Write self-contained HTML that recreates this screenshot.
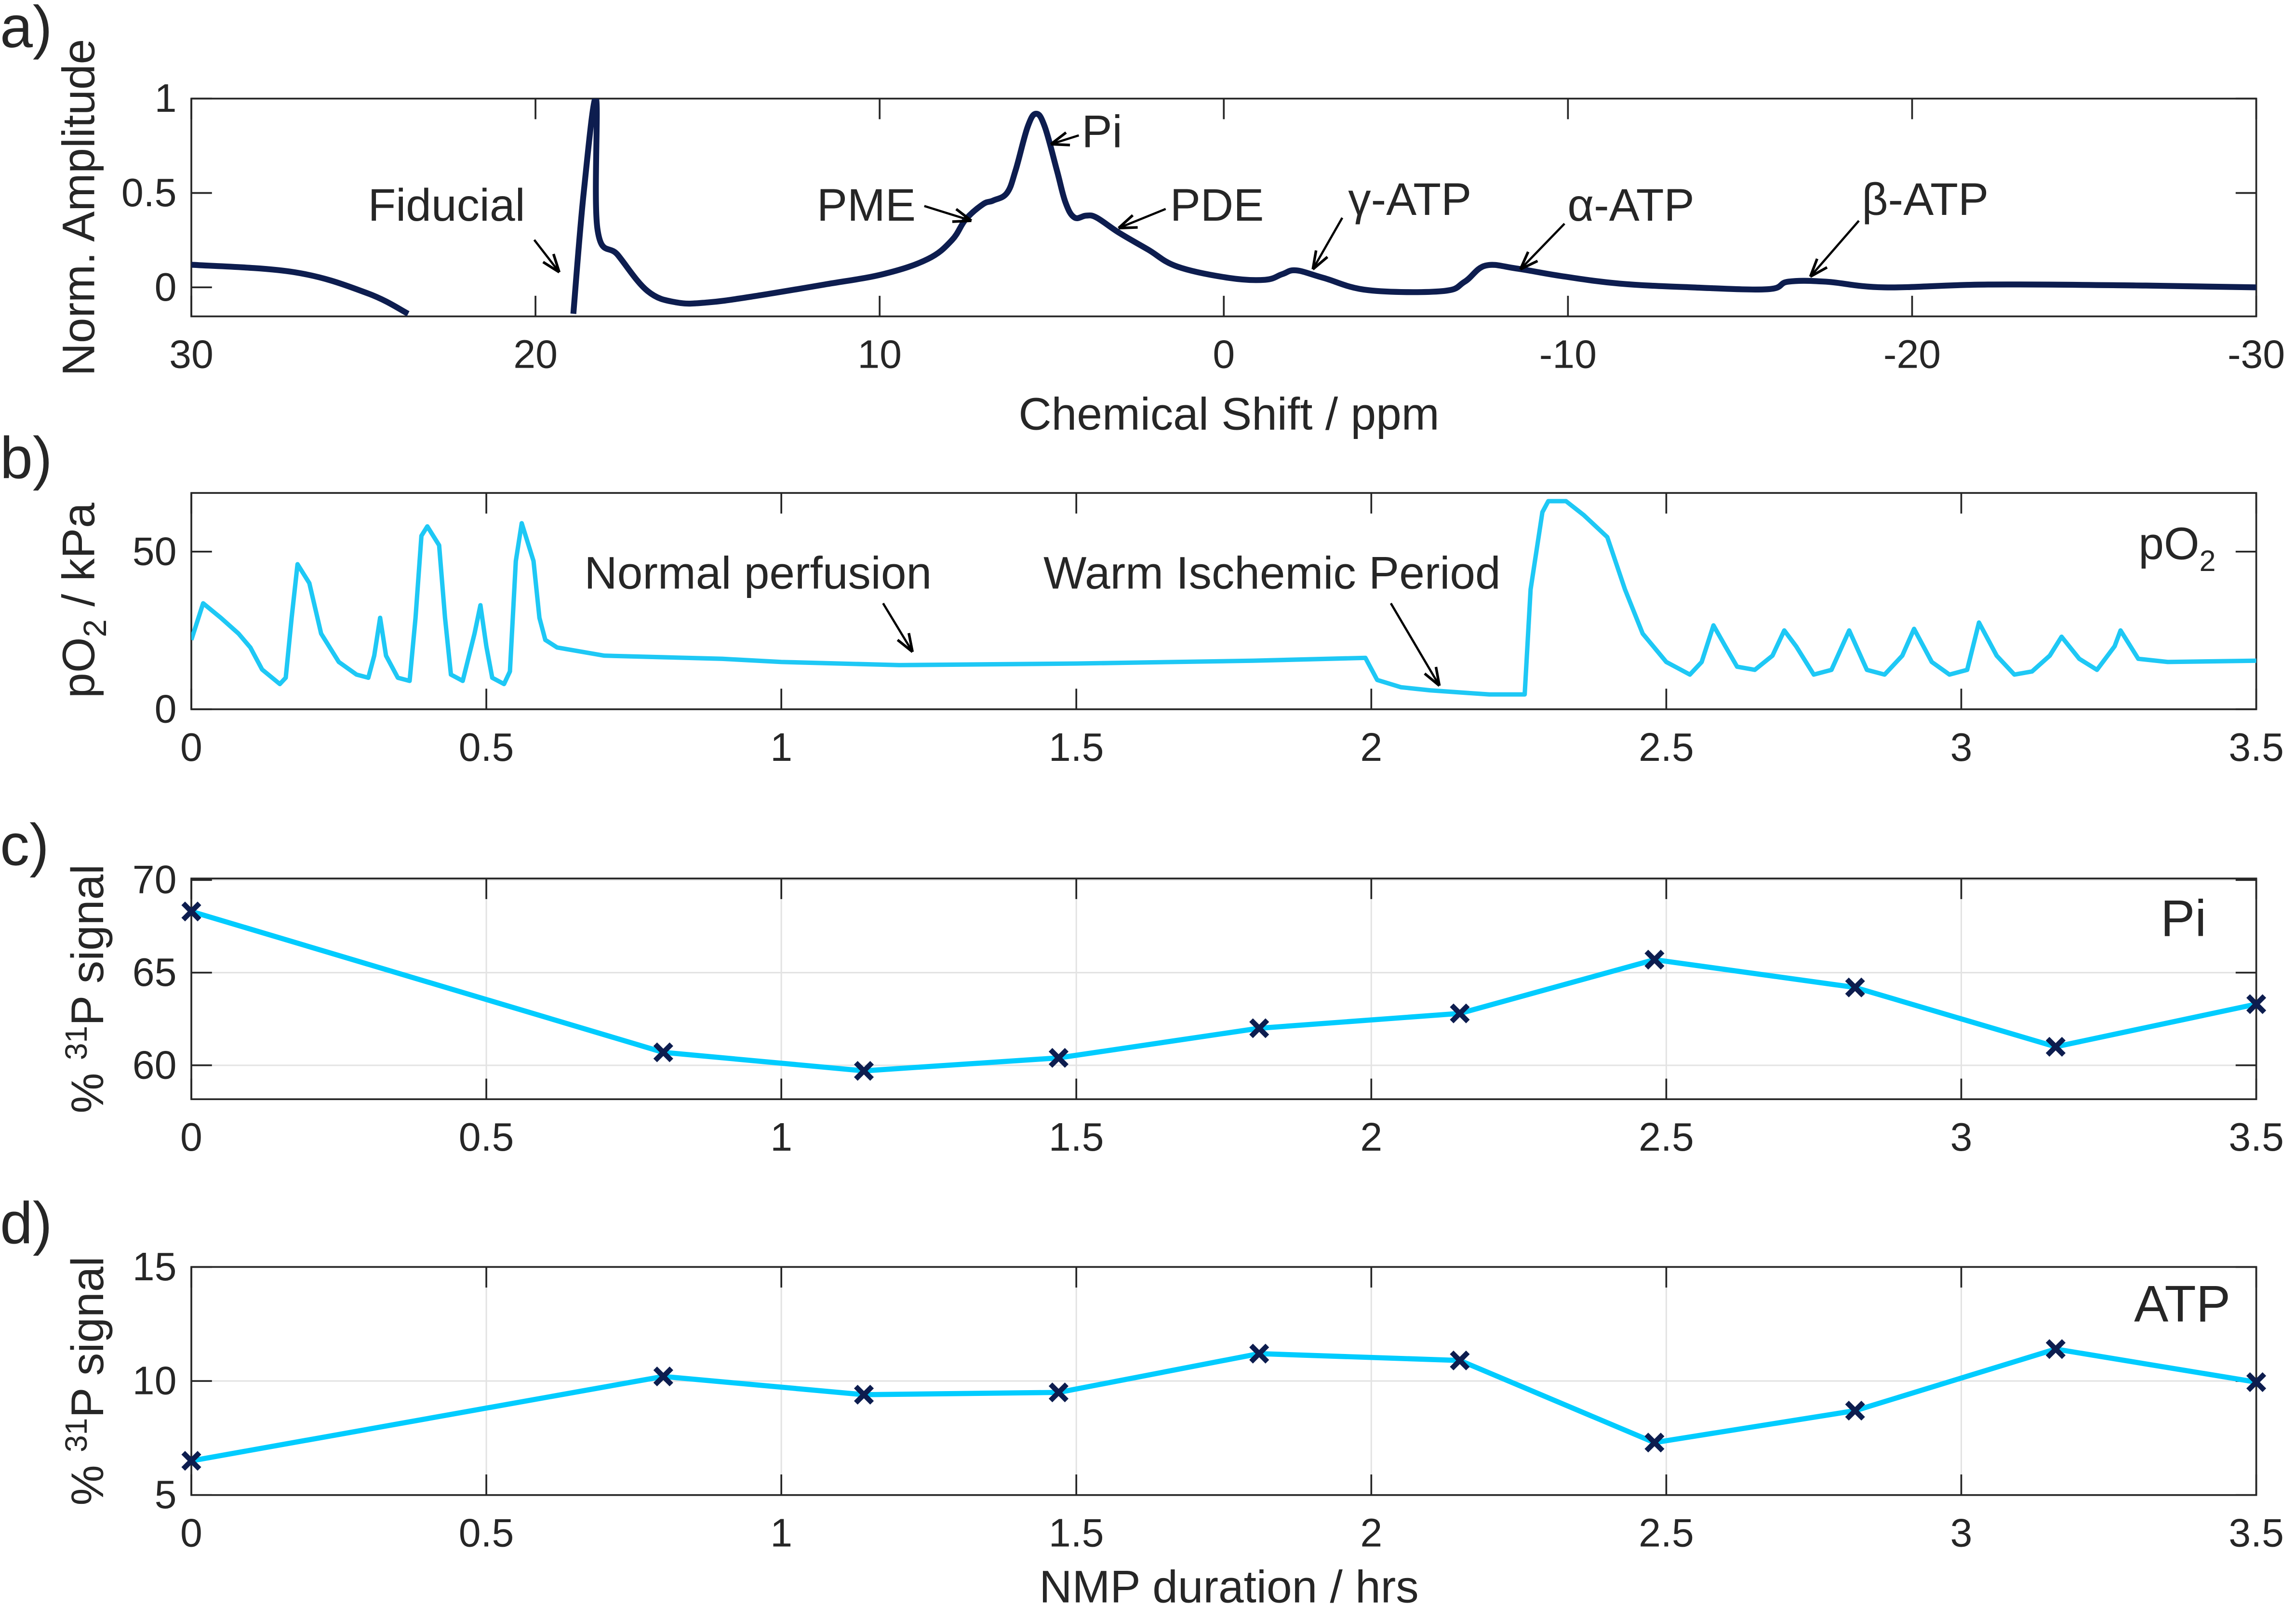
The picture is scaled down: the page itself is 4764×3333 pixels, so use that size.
<!DOCTYPE html>
<html><head><meta charset="utf-8"><style>
html,body{margin:0;padding:0;background:#fff}
svg{display:block}
text{font-family:"Liberation Sans",sans-serif;fill:#262626}
</style></head><body>
<svg id="fig" xmlns="http://www.w3.org/2000/svg" width="4764" height="3333" viewBox="0 0 1560 1091.4">
<g id="root"></g>
</svg>
<script>
// ---- data ----
const specPpm = [30,27,24.9,23.7,null,18.9,18.6,18.24,18.2,17.6,16.74,15.9,15.0,13.75,11.6,9.9,8.6,7.9,7.5,7.0,6.7,6.3,6.05,5.7,5.45,5.2,4.85,4.6,4.34,4.0,3.7,3.05,2.2,1.35,-0.15,-1.2,-1.7,-2.1,-2.9,-4.2,-6.35,-7.0,-7.6,-8.5,-9.8,-11.5,-13.6,-15.8,-16.4,-17.5,-19.2,-22.2,-26.5,-30];
const specAmp = [0.12,0.08,-0.03,-0.14,null,-0.14,0.5,1.0,0.31,0.17,-0.02,-0.08,-0.08,-0.05,0.015,0.07,0.15,0.25,0.36,0.44,0.46,0.5,0.62,0.85,0.92,0.85,0.62,0.45,0.37,0.38,0.37,0.29,0.2,0.11,0.05,0.04,0.07,0.09,0.05,-0.015,-0.02,0.03,0.115,0.1,0.06,0.02,0,-0.01,0.03,0.03,0,0.015,0.01,0];
const po2Time = [0,0.02,0.05,0.08,0.1,0.12,0.15,0.16,0.17,0.18,0.2,0.22,0.25,0.28,0.3,0.31,0.32,0.33,0.35,0.37,0.38,0.39,0.4,0.42,0.43,0.44,0.46,0.48,0.49,0.5,0.51,0.53,0.54,0.55,0.56,0.58,0.59,0.6,0.62,0.7,0.8,0.9,1.0,1.2,1.5,1.8,1.99,2.01,2.05,2.1,2.2,2.26,2.27,2.29,2.3,2.33,2.36,2.4,2.43,2.46,2.5,2.52,2.54,2.56,2.58,2.6,2.62,2.65,2.68,2.7,2.72,2.75,2.78,2.81,2.84,2.87,2.9,2.92,2.95,2.98,3.01,3.03,3.06,3.09,3.12,3.15,3.17,3.2,3.23,3.26,3.27,3.3,3.35,3.5];
const po2Val = [22,33.6,29,24,19.6,12.6,8,10,29,46,40,24,15,11,10,17,29,17,10,9,29,55,58,52,29,11,9,24,33,20,10,8,12,47,59,47,29,22,19.6,17,16.5,16,15,14,14.5,15.4,16.3,9.3,7,6,4.7,4.7,38,62.5,66,66,61.6,54.6,38,24,15,13,11,15,26.6,20,13.5,12.5,17,25,20,11,12.5,25,12.5,11,17,25.5,15,11,12.5,27.5,17,11,12,17,23,16,12.5,20,25,16,15,15.4];
const nmpTime = [0,0.8,1.14,1.47,1.81,2.15,2.48,2.82,3.16,3.5];
const piVal = [68.3,60.7,59.7,60.4,62.0,62.8,65.7,64.2,61.0,63.3];
const atpVal = [6.5,10.2,9.4,9.5,11.2,10.9,7.3,8.7,11.4,9.95];
const ppmTicks = [30,20,10,0,-10,-20,-30];
const ampTicks = [0,0.5,1];
const hrTicks = [0,0.5,1,1.5,2,2.5,3,3.5];
const po2Ticks = [0,50];
const piTicks = [60,65,70];
const atpTicks = [5,10,15];

const NS="http://www.w3.org/2000/svg";
const root=document.getElementById('root');
function mk(tag,attrs,parent){const e=document.createElementNS(NS,tag);for(const k in attrs)e.setAttribute(k,attrs[k]);(parent||root).appendChild(e);return e;}
function txt(s,x,y,size,anchor,parent){const t=mk('text',{x:x,y:y,'font-size':size,'text-anchor':anchor||'start'},parent);t.textContent=s;return t;}
const L=130,R=1533;

function panel(name,top,bot,x0,x1,y0,y1,xt,yt,grid){
  const g=mk('g',{});
  
  
  const sx=v=>L+(v-x0)/(x1-x0)*(R-L);
  const sy=v=>bot-(v-y0)/(y1-y0)*(bot-top);
  if(grid){
    xt.forEach(v=>mk('line',{x1:sx(v),x2:sx(v),y1:top,y2:bot,stroke:'#e3e3e3','stroke-width':1},g));
    yt.forEach(v=>mk('line',{x1:L,x2:R,y1:sy(v),y2:sy(v),stroke:'#e3e3e3','stroke-width':1},g));
  }
  mk('rect',{x:L,y:top,width:R-L,height:bot-top,fill:'none',stroke:'#262626','stroke-width':1.2},g);
  xt.forEach(v=>{
    mk('line',{x1:sx(v),x2:sx(v),y1:bot,y2:bot-14,stroke:'#262626','stroke-width':1.2},g);
    mk('line',{x1:sx(v),x2:sx(v),y1:top,y2:top+14,stroke:'#262626','stroke-width':1.2},g);
    const t=txt(String(v),sx(v),bot+35,27,'middle',g);
    
    
  });
  yt.forEach(v=>{
    mk('line',{x1:L,x2:L+14,y1:sy(v),y2:sy(v),stroke:'#262626','stroke-width':1.2},g);
    mk('line',{x1:R,x2:R-14,y1:sy(v),y2:sy(v),stroke:'#262626','stroke-width':1.2},g);
    const t=txt(String(v),L-10,sy(v)+9,27,'end',g);
    
    
  });
  const clipId=name+'-clip';
  const cp=mk('clipPath',{id:clipId},g);
  mk('rect',{x:L,y:top,width:R-L,height:bot-top},cp);
  return {g,sx,sy,clip:'url(#'+clipId+')'};
}
function pathFrom(xs,ys,sx,sy){
  let d='',pen=false;
  for(let i=0;i<xs.length;i++){
    if(xs[i]===null){pen=false;continue;}
    d+=(pen?'L':'M')+sx(xs[i]).toFixed(2)+','+sy(ys[i]).toFixed(2);pen=true;
  }
  return d;
}
function smoothPath(xs,ys,sx,sy){
  let segs=[],cur=[];
  for(let i=0;i<xs.length;i++){
    if(xs[i]===null){if(cur.length)segs.push(cur);cur=[];continue;}
    cur.push([sx(xs[i]),sy(ys[i])]);
  }
  if(cur.length)segs.push(cur);
  let d='';
  segs.forEach(p=>{
    d+='M'+p[0][0].toFixed(2)+','+p[0][1].toFixed(2);
    for(let i=0;i<p.length-1;i++){
      const p0=p[Math.max(0,i-1)],p1=p[i],p2=p[i+1],p3=p[Math.min(p.length-1,i+2)];
      const t=0.18;
      const c1=[p1[0]+(p2[0]-p0[0])*t,p1[1]+(p2[1]-p0[1])*t];
      const c2=[p2[0]-(p3[0]-p1[0])*t,p2[1]-(p3[1]-p1[1])*t];
      d+='C'+c1[0].toFixed(2)+','+c1[1].toFixed(2)+' '+c2[0].toFixed(2)+','+c2[1].toFixed(2)+' '+p2[0].toFixed(2)+','+p2[1].toFixed(2);
    }
  });
  return d;
}
function arrow(x1,y1,x2,y2,parent){
  const g=mk('g',{},parent);
  
  
  mk('line',{x1,y1,x2,y2,stroke:'#000','stroke-width':1.5},g);
  const a=Math.atan2(y2-y1,x2-x1),l=13,w=0.35;
  mk('path',{d:`M${x2},${y2}L${x2-l*Math.cos(a-w)},${y2-l*Math.sin(a-w)}M${x2},${y2}L${x2-l*Math.cos(a+w)},${y2-l*Math.sin(a+w)}`,stroke:'#000','stroke-width':1.8,fill:'none'},g);
}
function label(s,x,y,size,anchor,name,parent){const t=txt(s,x,y,size,anchor,parent);return t;}

// ---- panel a ----
const pa=panel('spectrum-panel',67,215,30,-30,-0.1538,1,ppmTicks,ampTicks,false);
const sp=mk('path',{d:smoothPath(specPpm,specAmp,pa.sx,pa.sy),fill:'none',stroke:'#0d1d4f','stroke-width':4,'stroke-linejoin':'round','clip-path':pa.clip},pa.g);


label('Fiducial',250,150,31,'start','fiducial-label',pa.g);arrow(363,163,380,185,pa.g);
label('PME',555,150,31,'start','pme-label',pa.g);arrow(628,140,660,150,pa.g);
label('Pi',735,100,31,'start','pi-peak-label',pa.g);arrow(733,92,714,98,pa.g);
label('PDE',795,150,31,'start','pde-label',pa.g);arrow(792,142,760,155,pa.g);
label('γ-ATP',916,146,31,'start','gamma-atp-label',pa.g);arrow(912,148,892,183,pa.g);
label('α-ATP',1065,150,31,'start','alpha-atp-label',pa.g);arrow(1063,152,1033,183,pa.g);
label('β-ATP',1265,146,31,'start','beta-atp-label',pa.g);arrow(1263,150,1230,188,pa.g);
label('Chemical Shift / ppm',835,292,31,'middle','x-axis-title-a',pa.g);
const ya=label('Norm. Amplitude',0,0,31,'middle','y-axis-title-a',pa.g);ya.setAttribute('transform','translate(64,141) rotate(-90)');
label('a)',0,32,40,'start','panel-label-a',pa.g);

// ---- panel b ----
const pb=panel('po2-panel',335,482,0,3.5,0,68.6,hrTicks,po2Ticks,false);
const pl=mk('path',{d:pathFrom(po2Time,po2Val,pb.sx,pb.sy),fill:'none',stroke:'#1ec8f5','stroke-width':3,'stroke-linejoin':'round','clip-path':pb.clip},pb.g);


label('Normal perfusion',397,400,31,'start','normal-perfusion-label',pb.g);arrow(600,410,620,443,pb.g);
label('Warm Ischemic Period',709,400,31,'start','warm-ischemic-label',pb.g);arrow(945,410,978,466,pb.g);
const po=label('pO',1453,380,31,'start','po2-legend-label',pb.g);
const sub=mk('tspan',{'font-size':20,dy:8},po);sub.textContent='2';
const yb=label('pO',0,0,31,'middle','y-axis-title-b',pb.g);yb.setAttribute('transform','translate(64,408) rotate(-90)');
const ts=mk('tspan',{'font-size':22,dy:8},yb);ts.textContent='2';
const ts2=mk('tspan',{dy:-8},yb);ts2.textContent=' / kPa';
label('b)',0,325,40,'start','panel-label-b',pb.g);

// ---- panels c, d ----
function linePanel(name,top,bot,y0,y1,ticks,vals,tag,ty,lx){
  const p=panel(name,top,bot,0,3.5,y0,y1,hrTicks,ticks,true);
  const ln=mk('path',{d:pathFrom(nmpTime,vals,p.sx,p.sy),fill:'none',stroke:'#00ccff','stroke-width':3.5,'stroke-linejoin':'round'},p.g);
  
  
  nmpTime.forEach((t,i)=>{
    const x=p.sx(t),y=p.sy(vals[i]),s=5.5;
    const m=mk('path',{d:`M${x-s},${y-s}L${x+s},${y+s}M${x-s},${y+s}L${x+s},${y-s}`,stroke:'#0d1d4f','stroke-width':3.5},p.g);
    
    
  });
  label(tag,lx,ty,35,'start',name+'-tag',p.g);
  const yl=label('% ',0,0,31,'middle','y-axis-title',p.g);
  yl.setAttribute('transform',`translate(70,${(top+bot)/2}) rotate(-90)`);
  const s1=mk('tspan',{'font-size':21,dy:-11},yl);s1.textContent='31';
  const s2=mk('tspan',{dy:11},yl);s2.textContent='P signal';
  return p;
}
const pc=linePanel('pi-panel',597,747,58.17,70.08,piTicks,piVal,'Pi',636,1468);
label('c)',0,588,40,'start','panel-label-c',pc.g);
const pd=linePanel('atp-panel',861,1016,5,15,atpTicks,atpVal,'ATP',898,1450);
label('d)',0,845,40,'start','panel-label-d',pd.g);
label('NMP duration / hrs',835,1089,31,'middle','x-axis-title-d',pd.g);
</script>
</body></html>
